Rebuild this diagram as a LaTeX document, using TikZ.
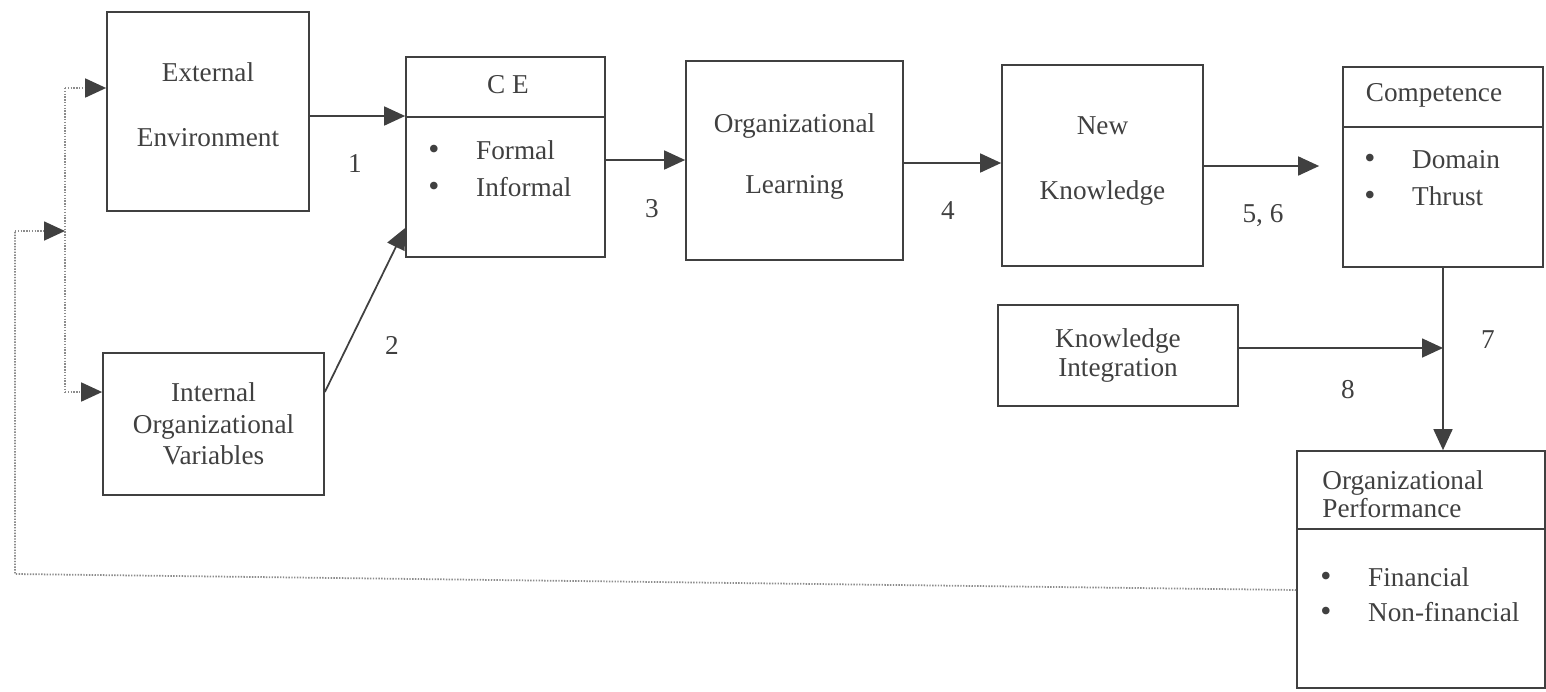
\documentclass[tikz,border=0pt]{standalone}
\usepackage{fontspec}
\setmainfont{Liberation Serif}
\usepackage{tikz}
\usetikzlibrary{arrows.meta}

\newcommand{\bul}{{\fontsize{18}{18}\selectfont\textbullet}\hspace{1.35em}}

\begin{document}
\begin{tikzpicture}[x=0.02cm,y=-0.02cm,
	every node/.style={text=black!75,font=\fontsize{15.5}{18}\selectfont},
	box/.style={draw=black!75,line width=1pt,inner sep=0pt,align=center},
	lbl/.style={inner sep=0pt},
	arr/.style={draw=black!75,line width=1pt,-{Triangle[length=0.42cm,width=0.38cm]}},
	fb/.style={draw=black!45,line width=1pt,dash pattern=on 0.8pt off 0.8pt},
	fbarr/.style={fb,-{Triangle[length=0.42cm,width=0.38cm,color=black!75]}}]
	\useasboundingbox (0,0) rectangle (1546,691);

		%\node (X) at (0,0) {};

		\node[box,minimum width=4.04cm,minimum height=3.98cm] (EE) at (208,111.5) {External\\[19pt]Environment\\[-10pt]\mbox{}};
		\node[box,minimum width=4.42cm,minimum height=2.84cm] (IOV) at (213.5,424) {Internal\\Organizational\\Variables};
		\node[box,minimum width=3.98cm,minimum height=4.00cm] (CE) at (505.5,157) {};
		\node[box,minimum width=4.34cm,minimum height=3.98cm] (OL) at (794.5,160.5) {Organizational\\[17pt]Learning\\[-10pt]\mbox{}};
		\node[box,minimum width=4.02cm,minimum height=4.02cm] (NK) at (1102.5,165.5) {New\\[19pt]Knowledge\\[-10pt]\mbox{}};
		\node[box,minimum width=4.00cm,minimum height=4.00cm] (CO) at (1443,167) {};
		\node[box,minimum width=4.80cm,minimum height=2.02cm] (KI) at (1118,355.5) {Knowledge\\[-2pt]Integration};
		\node[box,minimum width=4.96cm,minimum height=4.74cm] (OP) at (1421,569.5) {};

		% divided boxes
		\draw[black!75,line width=1pt] (CE.west |- 0,117) -- (CE.east |- 0,117);
		\draw[black!75,line width=1pt] (CO.west |- 0,127) -- (CO.east |- 0,127);
		\draw[black!75,line width=1pt] (OP.west |- 0,529) -- (OP.east |- 0,529);

		\node (CEt) at (508,85) {C E};
		\node[lbl,anchor=west,align=left] (CEb) at (428,168.5) {\bul Formal\\[3pt]\bul Informal};
		\node (COt) at (1434,95) {Competence};
		\node[lbl,anchor=west,align=left] (COb) at (1364,178.5) {\bul Domain\\[3pt]\bul Thrust};
		\node[lbl,anchor=west,align=left] (OPt) at (1322,494) {Organizational\\[-2pt]Performance};
		\node[lbl,anchor=west,align=left] (OPb) at (1320,595) {\bul Financial\\[2pt]\bul Non-financial};

		\node[lbl] (L1) at (355,164) {1};
		\node[lbl] (L2) at (392,345) {2};
		\node[lbl] (L3) at (652,209) {3};
		\node[lbl] (L4) at (948,211) {4};
		\node[lbl] (L56) at (1263,216) {5, 6};
		\node[lbl] (L7) at (1488,340) {7};
		\node[lbl] (L8) at (1348,390) {8};

		\coordinate (J) at (CO.south |- 0,348);
		\coordinate (fbL) at (15,574);
		\coordinate (fbT) at (15,231);
		\coordinate (fbM) at (65,231);
		\coordinate (fbA) at (65,88);
		\coordinate (fbB) at (65,392);

		\draw[arr] (EE.east |- 0,116) -- (CE.west |- 0,116);
		\draw[arr] (IOV.east |- 0,392) -- (CE.west |- 0,228);
		\draw[arr] (CE.east |- 0,160) -- (OL.west |- 0,160);
		\draw[arr] (OL.east |- 0,163) -- (NK.west |- 0,163);
		\draw[arr,shorten >=0.46cm] (NK.east |- 0,166) -- (CO.west |- 0,166);
		\draw[arr] (CO.south) -- (CO.south |- OP.north);
		\draw[arr] (KI.east |- J) -- (J);

		% feedback
		\draw[fb] (OP.west |- 0,590) -- (fbL) -- (fbT);
		\draw[fbarr] (fbT) -- (fbM);
		\draw[fb] (fbA) -- (fbB);
		\draw[fbarr] (fbA) -- (EE.west |- fbA);
		\draw[fbarr] (fbB) -- (IOV.west |- fbB);
	\end{tikzpicture}
\end{document}
